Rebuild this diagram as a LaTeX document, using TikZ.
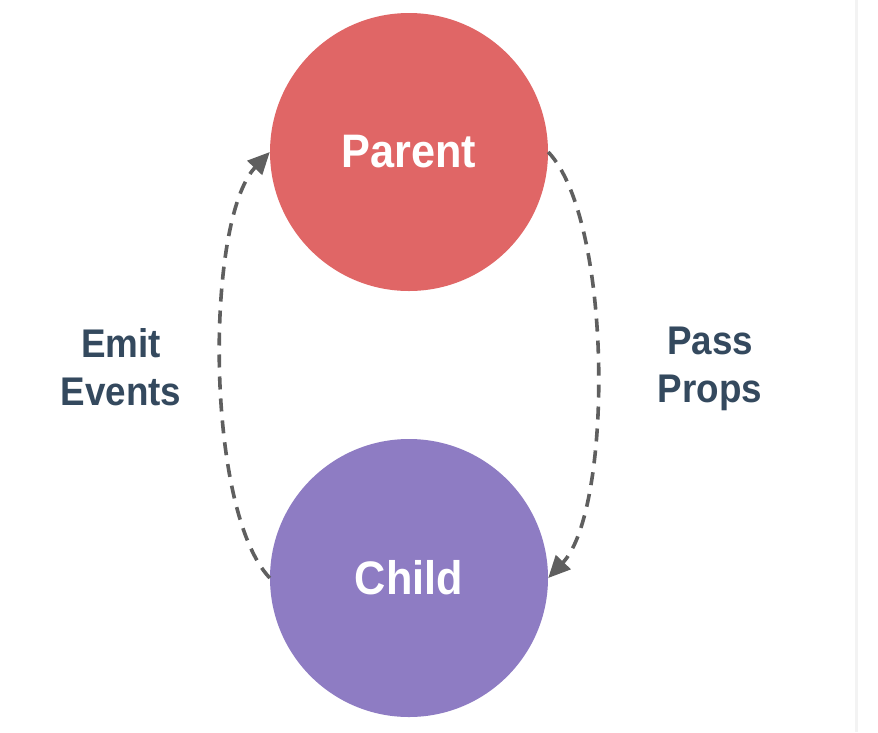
\documentclass[tikz,border=0pt]{standalone}
\usepackage{fontspec}
\setmainfont{Liberation Sans}[FakeStretch=0.92]
\usetikzlibrary{arrows.meta}
\definecolor{parentred}{HTML}{E06666}
\definecolor{childpurple}{HTML}{8E7CC3}
\definecolor{labelslate}{HTML}{34495E}
\definecolor{dashgray}{HTML}{5F5F5F}
\definecolor{edgegray}{HTML}{F3F3F3}
\tikzset{
  ball/.style={circle, minimum size=278pt, inner sep=0pt, text=white,
    font=\fontsize{47}{50}\selectfont\bfseries},
  sidelabel/.style={align=center, text=labelslate,
    font=\fontsize{40}{48}\selectfont\bfseries},
  flow/.style={draw=dashgray, line width=3.6pt, dash pattern=on 13pt off 9pt,
    -{Triangle[length=22pt,width=20pt]}}
}
\begin{document}
\begin{tikzpicture}[x=1pt,y=-1pt]
\useasboundingbox (0,0) rectangle (878,732);
\fill[white] (0,0) rectangle (878,732);
\fill[edgegray] (855,0) rectangle (858,732);
\node[ball, fill=parentred] (parent) at (409,152) {Parent};
\node[ball, fill=childpurple] (child) at (409,578) {Child};
\node[sidelabel] (emit) at (121,367) {Emit\\Events};
\node[sidelabel] (pass) at (710,369) {Pass\\Props};
\draw[flow] (child.west) .. controls (205,510) and (205,220) .. (parent.west);
\draw[flow] (parent.east) .. controls (613,220) and (613,510) .. (child.east);
\end{tikzpicture}
\end{document}
